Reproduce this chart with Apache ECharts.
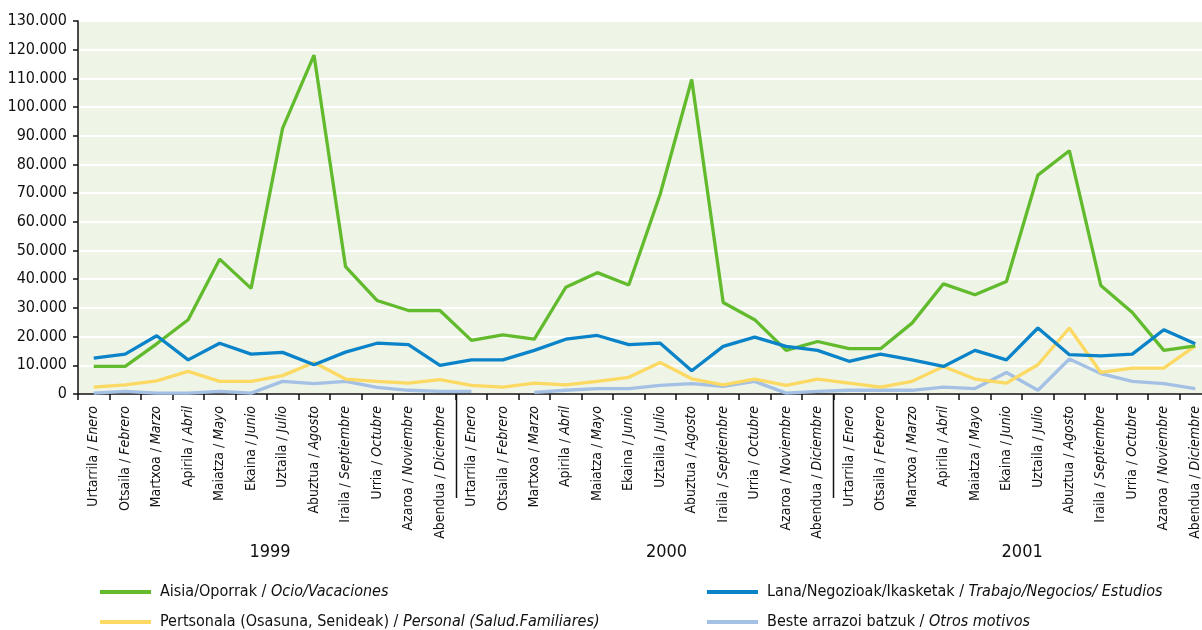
<!DOCTYPE html>
<html>
<head>
<meta charset="utf-8">
<script src="https://cdn.jsdelivr.net/npm/echarts@6/dist/echarts.min.js"></script>
<style>
  html, body { margin: 0; padding: 0; background: #fff; }
  #main { width: 1202px; height: 630px; }
</style>
</head>
<body>
<div id="main"></div>
<script>
const FONT = "'Liberation Sans Narrow', 'DejaVu Sans Condensed', 'Roboto', sans-serif";

// meses: euskera / castellano
const monthsEu = ['Urtarrila', 'Otsaila', 'Martxoa', 'Apirila', 'Maiatza', 'Ekaina',
  'Uztaila', 'Abuztua', 'Iraila', 'Urria', 'Azaroa', 'Abendua'];
const monthsEs = ['Enero', 'Febrero', 'Marzo', 'Abril', 'Mayo', 'Junio',
  'Julio', 'Agosto', 'Septiembre', 'Octubre', 'Noviembre', 'Diciembre'];
const years = ['1999', '2000', '2001'];

// 1999, 2000, 2001 (36 meses)
const ocio = [
  9600, 9600, 17500, 25900, 47000, 36800, 92600, 118100, 44400, 32600, 29100, 29100,
  18700, 20600, 19100, 37200, 42300, 38000, 69700, 109600, 31900, 25900, 15200, 18300,
  15800, 15800, 24700, 38400, 34600, 39200, 76300, 84800, 37800, 28400, 15200, 16800
];
const trabajo = [
  12500, 13900, 20300, 11900, 17700, 13900, 14500, 10200, 14600, 17700, 17200, 10000,
  11900, 11900, 15200, 19100, 20400, 17200, 17700, 8100, 16600, 19800, 16600, 15200,
  11400, 13900, 11900, 9600, 15200, 11900, 23000, 13700, 13300, 13900, 22400, 17500
];
const personal = [
  2400, 3200, 4600, 7900, 4400, 4400, 6400, 11000, 5200, 4400, 3800, 5000,
  3000, 2400, 3800, 3200, 4400, 5800, 11000, 5300, 3200, 5200, 3000, 5200,
  3800, 2400, 4400, 9600, 5200, 3800, 10200, 23000, 7500, 9000, 9000, 16800
];
const otros = [
  300, 900, 300, 300, 900, 300, 4400, 3600, 4400, 2300, 1300, 900,
  900, null, 600, 1300, 1900, 1900, 3000, 3600, 2700, 4400, 300, 900,
  1300, 1300, 1300, 2400, 1900, 7500, 1300, 12200, 7100, 4400, 3600, 1900
];

const seriesEu = ['Aisia/Oporrak', 'Lana/Negozioak/Ikasketak', 'Pertsonala (Osasuna, Senideak)', 'Beste arrazoi batzuk'];
const seriesEs = ['Ocio/Vacaciones', 'Trabajo/Negocios/ Estudios', 'Personal (Salud.Familiares)', 'Otros motivos'];
const seriesColors = ['#62bb2d', '#0a83c9', '#fbd962', '#a4c0e4'];
const seriesData = [ocio, trabajo, personal, otros];

const categories = [];
years.forEach(() => {
  monthsEu.forEach((m, i) => categories.push(m + ' / ' + monthsEs[i]));
});
const seriesNames = seriesEu.map((e, i) => e + ' / ' + seriesEs[i]);

function richName(name) {
  const parts = name.split(' / ');
  return '{n|' + parts[0] + ' / }{i|' + parts[1] + '}';
}

const legendText = {
  fontFamily: FONT,
  fontSize: 16,
  color: '#111',
  padding: [0, 0, 0, 4],
  rich: {
    n: { fontFamily: FONT, fontSize: 16, lineHeight: 18, color: '#111' },
    i: { fontFamily: FONT, fontSize: 16, lineHeight: 18, color: '#111', fontStyle: 'italic' }
  }
};

// posición de cada leyenda: [left, top]
const legendPos = [[100, 584], [707, 584], [100, 614], [707, 614]];

const chart = echarts.init(document.getElementById('main'));

const option = {
  animation: false,
  textStyle: { fontFamily: FONT },
  grid: {
    left: 78, width: 1133, top: 21, bottom: 236,
    outerBoundsMode: 'none', containLabel: false,
    show: true, backgroundColor: '#eef4e6', borderWidth: 0
  },
  legend: seriesNames.map((name, i) => ({
    data: [name],
    left: legendPos[i][0], top: legendPos[i][1],
    padding: 0,
    icon: 'rect', itemWidth: 51, itemHeight: 4,
    formatter: richName, textStyle: legendText
  })),
  xAxis: {
    type: 'category',
    data: categories,
    boundaryGap: true,
    axisLine: { lineStyle: { color: '#111', width: 1.5 } },
    axisTick: { show: true, length: 6, lineStyle: { color: '#111', width: 1.5 } },
    axisLabel: {
      interval: 0, rotate: 90, margin: 12,
      formatter: richName,
      rich: {
        n: { fontFamily: FONT, fontSize: 14, color: '#111' },
        i: { fontFamily: FONT, fontSize: 14, color: '#111', fontStyle: 'italic' }
      }
    },
    splitLine: { show: false }
  },
  yAxis: {
    type: 'value',
    min: 0, max: 130000, interval: 10000,
    axisLine: { show: true, lineStyle: { color: '#111', width: 1.5 } },
    axisTick: { show: true, length: 5, lineStyle: { color: '#111', width: 1.5 } },
    axisLabel: {
      fontFamily: FONT, fontSize: 16, color: '#111', margin: 11,
      formatter: v => String(v).replace(/\B(?=(\d{3})+(?!\d))/g, '.')
    },
    splitLine: { lineStyle: { color: '#ffffff', width: 2 } }
  },
  series: seriesNames.map((name, i) => ({
    name: name,
    type: 'line',
    data: seriesData[i],
    symbol: 'none',
    connectNulls: false,
    lineStyle: { color: seriesColors[i], width: 3.3 },
    itemStyle: { color: seriesColors[i] },
    z: [3, 4, 2, 1][i]
  }))
};

chart.setOption(option);

// separadores entre años y etiquetas de año, a partir de la escala del eje
const x0 = chart.convertToPixel({ xAxisIndex: 0 }, 0);
const x1 = chart.convertToPixel({ xAxisIndex: 0 }, 1);
const band = x1 - x0;
const graphics = [];
[12, 24].forEach(idx => {
  const x = Math.round(chart.convertToPixel({ xAxisIndex: 0 }, idx) - band / 2) + 0.5;
  graphics.push({
    type: 'line',
    shape: { x1: x, y1: 394, x2: x, y2: 498 },
    style: { stroke: '#111', lineWidth: 1.5 }
  });
});
const yearPos = [6.1, 18.7, 30];
years.forEach((y, i) => {
  const x = x0 - band / 2 + yearPos[i] * band;
  graphics.push({
    type: 'text',
    x: x, y: 552,
    style: {
      text: y, fontFamily: FONT, fontSize: 18, fill: '#111',
      align: 'center', verticalAlign: 'middle'
    }
  });
});
chart.setOption({ graphic: graphics });
</script>
</body>
</html>
